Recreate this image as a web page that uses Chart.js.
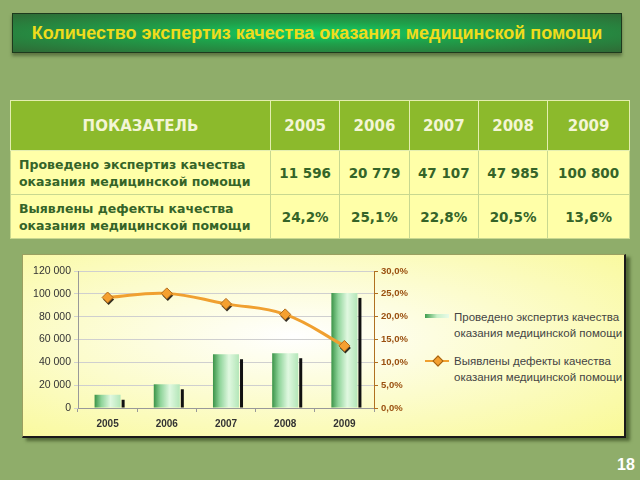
<!DOCTYPE html>
<html lang="ru">
<head>
<meta charset="UTF-8">
<title>Количество экспертиз качества оказания медицинской помощи</title>
<script src="https://cdn.jsdelivr.net/npm/chart.js"></script>
<style>
  body {
    margin: 0;
    width: 640px;
    height: 480px;
    background: #8fad6a;
    position: relative;
    overflow: hidden;
    font-family: "Liberation Sans", sans-serif;
  }
  #title {
    position: absolute;
    left: 12px; top: 13px;
    width: 608px; height: 38px;
    border: 1px solid #1d3a1d;
    background: radial-gradient(ellipse at center, #12d066 0%, #1fa04a 40%, #2f6a35 100%);
    box-shadow: 0 3px 3px rgba(60,80,40,0.6);
    color: #f0dc1c;
    font-weight: bold;
    font-size: 18px;
    line-height: 38px;
    text-align: center;
  }
  table {
    position: absolute;
    left: 10px; top: 100px;
    width: 620px;
    border-collapse: collapse;
    font-family: "DejaVu Sans", sans-serif;
    font-weight: bold;
    border: 1px solid #e4eeb0;
  }
  th {
    background: #8cba2c;
    color: #f3f5d6;
    height: 49px;
    font-size: 15px;
    border: 1px solid #e4eeb0;
    padding: 0;
  }
  td {
    background: #ffffa8;
    color: #356428;
    height: 43px;
    font-size: 13.5px;
    text-align: center;
    border: 1px solid #c8d890;
    padding: 0;
  }
  td.lbl {
    text-align: left;
    padding-left: 8px;
    font-size: 12.5px;
    line-height: 17px;
  }
  #panel {
    position: absolute;
    left: 22px; top: 254px;
    width: 601px; height: 181px;
    border: 1px solid #9aa060;
    border-right: 2px solid #1a1a1a;
    border-bottom: 2px solid #1a1a1a;
    background: radial-gradient(ellipse at 45% 45%, #ffffff 0%, #fdfde0 30%, #f9f996 100%);
    box-shadow: 4px 3px 3px rgba(40,60,20,0.6);
  }
  #chartBox {
    position: absolute;
    left: 0; top: 0;
    width: 400px; height: 183px;
  }
  .leg {
    position: absolute;
    left: 402px;
    font-size: 11.5px;
    line-height: 16px;
    color: #444;
  }
  .leg .mk {
    position: absolute;
    left: 0;
    width: 24px;
  }
  .leg .tx {
    position: absolute;
    left: 29px;
    white-space: nowrap;
  }
  #page {
    position: absolute;
    left: 617px; top: 456px;
    color: #ffffff;
    font-weight: bold;
    font-size: 16px;
  }
</style>
</head>
<body>
<div id="title">Количество экспертиз качества оказания медицинской помощи</div>

<table id="tbl"></table>

<div id="panel">
  <div id="chartBox"><canvas id="chart"></canvas></div>
  <div class="leg" style="top:54px">
    <div class="mk" style="top:5px;height:4px;background:linear-gradient(to right,#3f9e4e,#c8f0c8,#e8fbe8)"></div>
    <div class="tx" id="leg1" style="top:0"></div>
  </div>
  <div class="leg" style="top:98px">
    <div class="mk" style="top:7px;height:2px;background:#f0a030"></div>
    <div class="mk" style="top:4px;left:9px;width:6px;height:6px;background:#f5a030;border:1px solid #a06010;transform:rotate(45deg)"></div>
    <div class="tx" id="leg2" style="top:0"></div>
  </div>
</div>

<div id="page">18</div>

<script>
const years = ['2005', '2006', '2007', '2008', '2009'];
const expertises = [11596, 20779, 47107, 47985, 100800];
const defects = [24.2, 25.1, 22.8, 20.5, 13.6];
const expertisesText = ['11 596', '20 779', '47 107', '47 985', '100 800'];
const defectsText = ['24,2%', '25,1%', '22,8%', '20,5%', '13,6%'];
const rowLabels = ['Проведено экспертиз качества<br>оказания медицинской помощи',
                   'Выявлены дефекты качества<br>оказания медицинской помощи'];
const seriesNames = ['Проведено экспертиз качества<br>оказания медицинской помощи',
                     'Выявлены дефекты качества<br>оказания медицинской помощи'];

// table
const tbl = document.getElementById('tbl');
let html = '<tr><th style="width:259px">ПОКАЗАТЕЛЬ</th>';
years.forEach(y => html += '<th>' + y + '</th>');
html += '</tr><tr><td class="lbl">' + rowLabels[0] + '</td>';
expertisesText.forEach(v => html += '<td>' + v + '</td>');
html += '</tr><tr><td class="lbl">' + rowLabels[1] + '</td>';
defectsText.forEach(v => html += '<td>' + v + '</td>');
html += '</tr>';
tbl.innerHTML = html;

document.getElementById('leg1').innerHTML = seriesNames[0];
document.getElementById('leg2').innerHTML = seriesNames[1];

function barGradient(ctx) {
  const chart = ctx.chart;
  const sx = chart.scales.x;
  if (!sx) return '#a8e0b0';
  const x = sx.getPixelForValue(ctx.dataIndex);
  if (!isFinite(x)) return '#a8e0b0';
  const g = chart.ctx.createLinearGradient(x - 14, 0, x + 12, 0);
  g.addColorStop(0, '#2f8a3c');
  g.addColorStop(0.3, '#8fd49a');
  g.addColorStop(0.65, '#e0f8e0');
  g.addColorStop(1, '#b8e8bc');
  return g;
}

// black shadow strip right of each bar, dark shadow under the line markers
const shadows = {
  id: 'shadows',
  beforeDatasetsDraw(chart) {
    const meta = chart.getDatasetMeta(1);
    const c = chart.ctx;
    c.save();
    c.fillStyle = '#111';
    meta.data.forEach(bar => {
      const right = bar.x + bar.width / 2;
      c.fillRect(right + 1, bar.y + 5, 3, bar.base - bar.y - 5);
    });
    c.restore();
  },
  beforeDatasetDraw(chart, args) {
    if (args.index !== 0) return;
    const c = chart.ctx;
    c.save();
    c.fillStyle = 'rgba(20,10,0,0.85)';
    args.meta.data.forEach(p => {
      const x = p.x + 1, y = p.y + 2, r = 5.5;
      c.beginPath();
      c.moveTo(x, y - r); c.lineTo(x + r, y); c.lineTo(x, y + r); c.lineTo(x - r, y);
      c.closePath();
      c.fill();
    });
    c.restore();
  }
};

const fmtThousands = v => String(v).replace(/\B(?=(\d{3})+(?!\d))/g, ' ');

new Chart(document.getElementById('chart'), {
  data: {
    labels: years,
    datasets: [
      {
        type: 'line',
        label: 'Выявлены дефекты качества оказания медицинской помощи',
        data: defects,
        yAxisID: 'y1',
        order: 0,
        borderColor: '#f0a030',
        borderWidth: 3,
        tension: 0.4,
        pointStyle: 'rectRot',
        pointRadius: 5.5,
        pointBackgroundColor: '#f5a030',
        pointBorderColor: '#b06a18',
        pointBorderWidth: 1
      },
      {
        type: 'bar',
        label: 'Проведено экспертиз качества оказания медицинской помощи',
        data: expertises,
        yAxisID: 'y',
        order: 1,
        backgroundColor: barGradient,
        barPercentage: 0.44,
        categoryPercentage: 1
      }
    ]
  },
  plugins: [shadows],
  options: {
    responsive: true,
    maintainAspectRatio: false,
    animation: false,
    layout: { padding: { top: 16 } },
    plugins: { legend: { display: false }, tooltip: { enabled: false } },
    scales: {
      x: {
        afterFit: s => { s.height = 30; },
        grid: { drawOnChartArea: false, offset: true, tickLength: 4, color: '#999' },
        border: { color: '#999' },
        ticks: { color: '#333', font: { family: 'Liberation Sans', size: 10, weight: 'bold' }, padding: 6 }
      },
      y: {
        position: 'left',
        min: 0, max: 120000,
        afterFit: s => { s.width = 55; },
        grid: { color: '#cfcfcf', tickLength: 4 },
        border: { color: '#999' },
        ticks: {
          stepSize: 20000,
          color: '#333',
          font: { family: 'Liberation Sans', size: 10.5 },
          callback: v => fmtThousands(v)
        }
      },
      y1: {
        position: 'right',
        min: 0, max: 30,
        afterFit: s => { s.width = 49; },
        grid: { drawOnChartArea: false, tickLength: 4, color: '#b07020' },
        border: { color: '#b07020' },
        ticks: {
          stepSize: 5,
          color: '#9a5010',
          font: { family: 'Liberation Sans', size: 9.5, weight: 'bold' },
          callback: v => v.toFixed(1).replace('.', ',') + '%'
        }
      }
    }
  }
});
</script>
</body>
</html>
